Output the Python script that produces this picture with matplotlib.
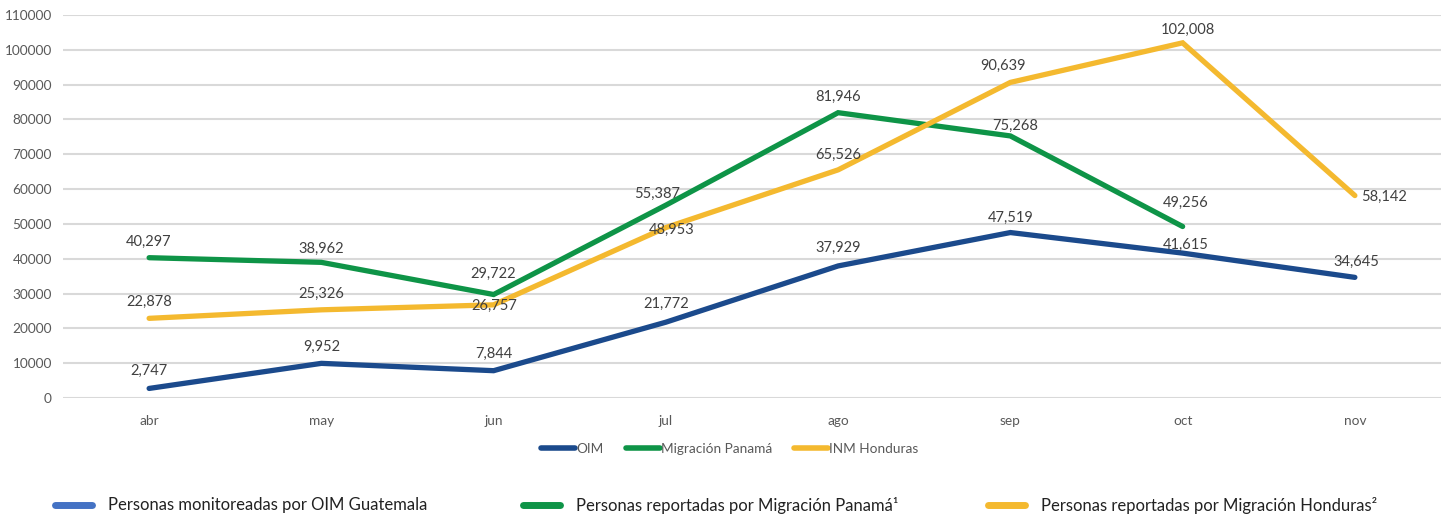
import matplotlib
matplotlib.use('Agg')
import matplotlib.pyplot as plt
from matplotlib.lines import Line2D

months = ['abr', 'may', 'jun', 'jul', 'ago', 'sep', 'oct', 'nov']
oim = [2747, 9952, 7844, 21772, 37929, 47519, 41615, 34645]
panama = [40297, 38962, 29722, 55387, 81946, 75268, 49256]
honduras = [22878, 25326, 26757, 48953, 65526, 90639, 102008, 58142]
y_ticks = list(range(0, 110001, 10000))

series_names = ['OIM', 'Migración Panamá', 'INM Honduras']
footer_names = ['Personas monitoreadas por OIM Guatemala',
                'Personas reportadas por Migración Panamá¹',
                'Personas reportadas por Migración Honduras²']

BLUE = '#1B4A8C'
GREEN = '#0E9447'
YELLOW = '#F4B92F'
LIGHT_BLUE = '#4472C4'
TXT = '#404040'

# label offsets in pixels (dx, dy) relative to each point, plus alignment
oim_off = [(0, 18), (0, 16), (0, 17), (0, 18), (0, 18), (0, 15), (3, 8), (1, 15)]
pan_off = [(0, 16), (0, 13), (0, 21), (-9, 11), (0, 16), (5, 10), (3, 24)]
hon_off = [(0, 16), (0, 16), (1, -1), (6, -2), (0, 15), (-7, 17), (5, 13), (6, -1)]
hon_ha = ['center'] * 7 + ['left']

plt.rcParams['font.family'] = ['Lato', 'DejaVu Sans']

fig = plt.figure(figsize=(14.48, 5.17), dpi=100)
ax = fig.add_axes([63 / 1448, 1 - 398 / 517, (1441 - 63) / 1448, (398 - 15) / 517])

x = list(range(len(months)))
lw = 3.8
ax.plot(x, oim, color=BLUE, lw=lw, solid_capstyle='round', solid_joinstyle='miter', zorder=3)
ax.plot(x[:len(panama)], panama, color=GREEN, lw=lw, solid_capstyle='round', solid_joinstyle='miter', zorder=3)
ax.plot(x, honduras, color=YELLOW, lw=lw, solid_capstyle='round', solid_joinstyle='miter', zorder=3)


def label(vals, offs, has=None):
    for i, v in enumerate(vals):
        dx, dy = offs[i]
        ha = has[i] if has else 'center'
        ax.annotate(f'{v:,}', (i, v), xytext=(dx * 0.72, dy * 0.72), textcoords='offset points',
                    ha=ha, va='center', fontsize=10.5, color=TXT, zorder=4)


label(oim, oim_off)
label(panama, pan_off)
label(honduras, hon_off, hon_ha)

ax.set_xlim(-0.5, len(months) - 0.5)
ax.set_ylim(0, 110000)
ax.set_yticks(y_ticks)
ax.set_yticklabels([str(t) for t in y_ticks])
ax.set_xticks(x)
ax.set_xticklabels(months)
ax.tick_params(axis='both', length=0, labelsize=9.8, colors='#595959')
ax.tick_params(axis='x', pad=12)
ax.tick_params(axis='y', pad=8)
ax.grid(axis='y', color='#D9D9D9', lw=1.5, zorder=0)
ax.set_axisbelow(True)
for s in ax.spines.values():
    s.set_visible(False)

handles = [Line2D([], [], color=c, lw=4, solid_capstyle='round') for c in (BLUE, GREEN, YELLOW)]
ax.legend(handles, series_names, loc='center', bbox_to_anchor=(730 / 1448, 1 - 449 / 517),
          bbox_transform=fig.transFigure, ncol=3, frameon=False, fontsize=9.8,
          handlelength=2.5, handletextpad=0.1, columnspacing=1.6, labelcolor='#595959')

# footer legend
foot_x = [52, 520, 985]
for fx, c, name in zip(foot_x, (LIGHT_BLUE, GREEN, YELLOW), footer_names):
    fig.add_artist(Line2D([(fx + 3) / 1448, (fx + 40) / 1448], [1 - 505 / 517] * 2,
                          color=c, lw=5, solid_capstyle='round', transform=fig.transFigure))
    fig.text((fx + 56) / 1448, 1 - 505 / 517, name, ha='left', va='center',
             fontsize=12, color='#222222')

fig.savefig('out.png', dpi=100)
